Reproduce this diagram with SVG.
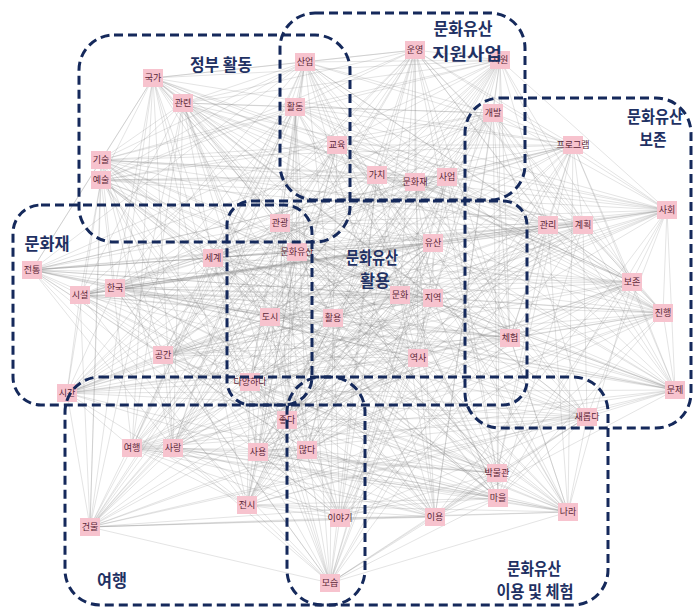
<svg xmlns="http://www.w3.org/2000/svg" xmlns:xlink="http://www.w3.org/1999/xlink" width="693" height="607" viewBox="0 0 693 607">
<style>
.e{fill:none;stroke:#808080;stroke-width:.6;stroke-opacity:.36;stroke-linejoin:round}
.grp{fill:none;stroke:#15295b;stroke-width:3;stroke-dasharray:9 5}
.n text{font-family:"Noto Sans CJK KR","Noto Sans",sans-serif;font-size:9px;fill:#5a2636;text-anchor:middle}
.t{font-family:"Noto Sans CJK KR","Noto Sans",sans-serif;font-size:16.5px;fill:#1f3163;text-anchor:middle;font-weight:700}
</style>
<defs>
<rect id="box" x="-10" y="-9" width="20" height="18" fill="#f7c3ce"/>
</defs>
<rect width="693" height="607" fill="#ffffff"/>

<!-- co-occurrence links, written as closed stride cycles over the node list -->
<g id="connectors">
<path class="e" d="M153 78L183 103 101 160 101 180 305 62 295 107 337 145 415 50 500 60 377 175 415 182 447 177 493 113 573 145 667 210 548 225 583 225 632 282 663 313 510 338 675 390 32 270 80 295 115 288 213 258 163 355 67 393 280 223 297 252 433 243 400 295 433 298 270 317 333 318 418 358 250 382 287 420 258 452 307 450 247 505 340 518 435 517 330 583 587 417 497 473 498 498 568 512 132 448 173 448 90 527Z"/>
<path class="e" d="M153 78L101 180 337 145 377 175 493 113 548 225 663 313 32 270 213 258 280 223 400 295 333 318 287 420 247 505 330 583 498 498 173 448 183 103 305 62 415 50 415 182 573 145 583 225 510 338 80 295 163 355 297 252 433 298 418 358 258 452 340 518 587 417 568 512 90 527 101 160 295 107 500 60 447 177 667 210 632 282 675 390 115 288 67 393 433 243 270 317 250 382 307 450 435 517 497 473 132 448Z"/>
<path class="e" d="M153 78L415 50 667 210 32 270 297 252 250 382 330 583 90 527 337 145 573 145 675 390 280 223 418 358 435 517 173 448 295 107 493 113 510 338 67 393 333 318 340 518 132 448 305 62 447 177 663 313 163 355 270 317 247 505 568 512 101 180 415 182 632 282 213 258 433 298 307 450 498 498 101 160 377 175 583 225 115 288 400 295 258 452 497 473 183 103 500 60 548 225 80 295 433 243 287 420 587 417Z"/>
<path class="e" d="M153 78L377 175 663 313 280 223 287 420 498 498 305 62 573 145 80 295 433 298 340 518 90 527 500 60 632 282 67 393 250 382 497 473 101 180 493 113 32 270 400 295 247 505 173 448 415 50 583 225 163 355 418 358 587 417 101 160 447 177 675 390 433 243 307 450 132 448 337 145 548 225 213 258 333 318 330 583 183 103 415 182 510 338 297 252 258 452 568 512 295 107 667 210 115 288 270 317 435 517Z"/>
<path class="e" d="M153 78L447 177 80 295 333 318 497 473 295 107 583 225 280 223 307 450 90 527 415 182 32 270 270 317 587 417 305 62 548 225 67 393 258 452 173 448 377 175 675 390 433 298 330 583 101 180 667 210 163 355 287 420 132 448 500 60 510 338 400 295 435 517 101 160 573 145 213 258 250 382 568 512 415 50 663 313 433 243 340 518 183 103 493 113 115 288 418 358 498 498 337 145 632 282 297 252 247 505Z"/>
<path class="e" d="M153 78L573 145 67 393 247 505 101 160 548 225 297 252 435 517 305 62 632 282 400 295 587 417 337 145 510 338 270 317 498 498 500 60 32 270 418 358 132 448 415 182 115 288 287 420 90 527 493 113 163 355 307 450 183 103 667 210 280 223 340 518 101 180 583 225 433 243 330 583 295 107 663 313 433 298 497 473 415 50 675 390 333 318 568 512 377 175 80 295 250 382 173 448 447 177 213 258 258 452Z"/>
<path class="e" d="M153 78L632 282 418 358 183 103 663 313 250 382 101 160 510 338 287 420 101 180 675 390 258 452 305 62 32 270 307 450 295 107 80 295 247 505 337 145 115 288 340 518 415 50 213 258 435 517 500 60 163 355 330 583 377 175 67 393 587 417 415 182 280 223 497 473 447 177 297 252 498 498 493 113 433 243 568 512 573 145 400 295 132 448 667 210 433 298 173 448 548 225 270 317 90 527 583 225 333 318Z"/>
<path class="e" d="M153 78L510 338 307 450 415 50 67 393 498 498 667 210 333 318 101 160 32 270 340 518 377 175 297 252 132 448 583 225 250 382 305 62 115 288 330 583 447 177 400 295 90 527 663 313 258 452 337 145 163 355 497 473 573 145 270 317 183 103 675 390 247 505 500 60 280 223 568 512 548 225 418 358 101 180 80 295 435 517 415 182 433 243 173 448 632 282 287 420 295 107 213 258 587 417 493 113 433 298Z"/>
<path class="e" d="M153 78L32 270 330 583 573 145 418 358 295 107 67 393 132 448 663 313 247 505 415 182 433 298 101 160 115 288 497 473 548 225 287 420 415 50 297 252 90 527 675 390 435 517 493 113 333 318 305 62 163 355 568 512 632 282 307 450 377 175 400 295 183 103 80 295 587 417 667 210 250 382 337 145 280 223 173 448 510 338 340 518 447 177 270 317 101 180 213 258 498 498 583 225 258 452 500 60 433 243Z"/>
<path class="e" d="M153 78L115 288 568 512 510 338 330 583 548 225 307 450 447 177 418 358 415 50 400 295 101 180 67 393 90 527 80 295 498 498 663 313 435 517 667 210 258 452 415 182 333 318 337 145 433 243 101 160 163 355 173 448 32 270 497 473 632 282 340 518 573 145 287 420 377 175 270 317 295 107 297 252 183 103 213 258 132 448 675 390 587 417 583 225 247 505 493 113 250 382 500 60 433 298 305 62 280 223Z"/>
<path class="e" d="M153 78L101 160 305 62 337 145 500 60 415 182 493 113 667 210 583 225 663 313 675 390 80 295 213 258 67 393 297 252 400 295 270 317 418 358 287 420 307 450 340 518 330 583 497 473 568 512 173 448Z"/>
<path class="e" d="M183 103L101 180 295 107 415 50 377 175 447 177 573 145 548 225 632 282 510 338 32 270 115 288 163 355 280 223 433 243 433 298 333 318 250 382 258 452 247 505 435 517 587 417 498 498 132 448 90 527Z"/>
<path class="e" d="M153 78L305 62 500 60 493 113 583 225 675 390 213 258 297 252 270 317 287 420 340 518 497 473 173 448 101 160 337 145 415 182 667 210 663 313 80 295 67 393 400 295 418 358 307 450 330 583 568 512Z"/>
<path class="e" d="M183 103L295 107 377 175 573 145 632 282 32 270 163 355 433 243 333 318 258 452 435 517 498 498 90 527 101 180 415 50 447 177 548 225 510 338 115 288 280 223 433 298 250 382 247 505 587 417 132 448Z"/>
<path class="e" d="M153 78L337 145 493 113 663 313 213 258 400 295 287 420 330 583 173 448 305 62 415 182 583 225 80 295 297 252 418 358 340 518 568 512 101 160 500 60 667 210 675 390 67 393 270 317 307 450 497 473Z"/>
<path class="e" d="M183 103L415 50 573 145 510 338 163 355 433 298 258 452 587 417 90 527 295 107 447 177 632 282 115 288 433 243 250 382 435 517 132 448 101 180 377 175 548 225 32 270 280 223 333 318 247 505 498 498Z"/>
<path class="e" d="M153 78L500 60 583 225 213 258 270 317 340 518 173 448 337 145 667 210 80 295 400 295 307 450 568 512 305 62 493 113 675 390 297 252 287 420 497 473 101 160 415 182 663 313 67 393 418 358 330 583Z"/>
<path class="e" d="M183 103L377 175 632 282 163 355 333 318 435 517 90 527 415 50 548 225 115 288 433 298 247 505 132 448 295 107 573 145 32 270 433 243 258 452 498 498 101 180 447 177 510 338 280 223 250 382 587 417Z"/>
</g>

<!-- keyword nodes -->
<g id="nodes">
<g id="n-gukga" class="n" transform="translate(153 78)"><use href="#box"/><text y="3.4">국가</text></g>
<g id="n-gwallyeon" class="n" transform="translate(183 103)"><use href="#box"/><text y="3.4">관련</text></g>
<g id="n-gisul" class="n" transform="translate(101 160)"><use href="#box"/><text y="3.4">기술</text></g>
<g id="n-yesul" class="n" transform="translate(101 180)"><use href="#box"/><text y="3.4">예술</text></g>
<g id="n-saneop" class="n" transform="translate(305 62)"><use href="#box"/><text y="3.4">산업</text></g>
<g id="n-hwaldong" class="n" transform="translate(295 107)"><use href="#box"/><text y="3.4">활동</text></g>
<g id="n-gyoyuk" class="n" transform="translate(337 145)"><use href="#box"/><text y="3.4">교육</text></g>
<g id="n-unyeong" class="n" transform="translate(415 50)"><use href="#box"/><text y="3.4">운영</text></g>
<g id="n-jiwon" class="n" transform="translate(500 60)"><use href="#box"/><text y="3.4">지원</text></g>
<g id="n-gachi" class="n" transform="translate(377 175)"><use href="#box"/><text y="3.4">가치</text></g>
<g id="n-munhwajae" class="n" transform="translate(415 182)"><use href="#box"/><text y="3.4">문화재</text></g>
<g id="n-saeop" class="n" transform="translate(447 177)"><use href="#box"/><text y="3.4">사업</text></g>
<g id="n-gaebal" class="n" transform="translate(493 113)"><use href="#box"/><text y="3.4">개발</text></g>
<g id="n-program" class="n" transform="translate(573 145)"><use href="#box"/><text y="3.4">프로그램</text></g>
<g id="n-sahoe" class="n" transform="translate(667 210)"><use href="#box"/><text y="3.4">사회</text></g>
<g id="n-gwalli" class="n" transform="translate(548 225)"><use href="#box"/><text y="3.4">관리</text></g>
<g id="n-gyehoek" class="n" transform="translate(583 225)"><use href="#box"/><text y="3.4">계획</text></g>
<g id="n-bojon" class="n" transform="translate(632 282)"><use href="#box"/><text y="3.4">보존</text></g>
<g id="n-jinhaeng" class="n" transform="translate(663 313)"><use href="#box"/><text y="3.4">진행</text></g>
<g id="n-cheheom" class="n" transform="translate(510 338)"><use href="#box"/><text y="3.4">체험</text></g>
<g id="n-munje" class="n" transform="translate(675 390)"><use href="#box"/><text y="3.4">문제</text></g>
<g id="n-jeontong" class="n" transform="translate(32 270)"><use href="#box"/><text y="3.4">전통</text></g>
<g id="n-siseol" class="n" transform="translate(80 295)"><use href="#box"/><text y="3.4">시설</text></g>
<g id="n-hanguk" class="n" transform="translate(115 288)"><use href="#box"/><text y="3.4">한국</text></g>
<g id="n-segye" class="n" transform="translate(213 258)"><use href="#box"/><text y="3.4">세계</text></g>
<g id="n-gonggan" class="n" transform="translate(163 355)"><use href="#box"/><text y="3.4">공간</text></g>
<g id="n-sigan" class="n" transform="translate(67 393)"><use href="#box"/><text y="3.4">시간</text></g>
<g id="n-gwangwang" class="n" transform="translate(280 223)"><use href="#box"/><text y="3.4">관광</text></g>
<g id="n-munhwayusan" class="n" transform="translate(297 252)"><use href="#box"/><text y="3.4">문화유산</text></g>
<g id="n-yusan" class="n" transform="translate(433 243)"><use href="#box"/><text y="3.4">유산</text></g>
<g id="n-munhwa" class="n" transform="translate(400 295)"><use href="#box"/><text y="3.4">문화</text></g>
<g id="n-jiyeok" class="n" transform="translate(433 298)"><use href="#box"/><text y="3.4">지역</text></g>
<g id="n-dosi" class="n" transform="translate(270 317)"><use href="#box"/><text y="3.4">도시</text></g>
<g id="n-hwaryong" class="n" transform="translate(333 318)"><use href="#box"/><text y="3.4">활용</text></g>
<g id="n-yeoksa" class="n" transform="translate(418 358)"><use href="#box"/><text y="3.4">역사</text></g>
<g id="n-dayanghada" class="n" transform="translate(250 382)"><use href="#box"/><text y="3.4">다양하다</text></g>
<g id="n-jota" class="n" transform="translate(287 420)"><use href="#box"/><text y="3.4">좋다</text></g>
<g id="n-sayong" class="n" transform="translate(258 452)"><use href="#box"/><text y="3.4">사용</text></g>
<g id="n-manta" class="n" transform="translate(307 450)"><use href="#box"/><text y="3.4">많다</text></g>
<g id="n-jeonsi" class="n" transform="translate(247 505)"><use href="#box"/><text y="3.4">전시</text></g>
<g id="n-iyagi" class="n" transform="translate(340 518)"><use href="#box"/><text y="3.4">이야기</text></g>
<g id="n-iyong" class="n" transform="translate(435 517)"><use href="#box"/><text y="3.4">이용</text></g>
<g id="n-moseup" class="n" transform="translate(330 583)"><use href="#box"/><text y="3.4">모습</text></g>
<g id="n-saeropda" class="n" transform="translate(587 417)"><use href="#box"/><text y="3.4">새롭다</text></g>
<g id="n-bangmulgwan" class="n" transform="translate(497 473)"><use href="#box"/><text y="3.4">박물관</text></g>
<g id="n-maeul" class="n" transform="translate(498 498)"><use href="#box"/><text y="3.4">마을</text></g>
<g id="n-nara" class="n" transform="translate(568 512)"><use href="#box"/><text y="3.4">나라</text></g>
<g id="n-yeohaeng" class="n" transform="translate(132 448)"><use href="#box"/><text y="3.4">여행</text></g>
<g id="n-sarang" class="n" transform="translate(173 448)"><use href="#box"/><text y="3.4">사랑</text></g>
<g id="n-geonmul" class="n" transform="translate(90 527)"><use href="#box"/><text y="3.4">건물</text></g>
</g>

<!-- topic clusters (dashed outlines) -->
<g id="clusters">
<rect id="g-government" class="grp" x="79" y="35" width="271" height="207" rx="35"/>
<rect id="g-support" class="grp" x="280" y="13" width="245" height="187" rx="35"/>
<rect id="g-conservation" class="grp" x="465" y="98" width="226" height="330" rx="35"/>
<rect id="g-utilization" class="grp" x="227" y="201" width="300" height="204" rx="24"/>
<rect id="g-property" class="grp" x="13" y="205" width="299" height="200" rx="28"/>
<rect id="g-travel" class="grp" x="65" y="377" width="300" height="228" rx="35"/>
<rect id="g-experience" class="grp" x="287" y="377" width="321" height="228" rx="35"/>
</g>

<!-- cluster titles -->
<g id="titles">
<text class="t" x="221" y="71" textLength="62" lengthAdjust="spacingAndGlyphs">정부 활동</text>
<text class="t" x="463" y="35" textLength="59" lengthAdjust="spacingAndGlyphs">문화유산</text>
<text class="t" x="467" y="59.5" textLength="70" lengthAdjust="spacingAndGlyphs">지원사업</text>
<text class="t" x="655" y="123" textLength="56" lengthAdjust="spacingAndGlyphs">문화유산</text>
<text class="t" x="653" y="146" textLength="27" lengthAdjust="spacingAndGlyphs">보존</text>
<text class="t" x="47" y="249.5" textLength="45" lengthAdjust="spacingAndGlyphs">문화재</text>
<text class="t" x="372" y="264" textLength="52" lengthAdjust="spacingAndGlyphs">문화유산</text>
<text class="t" x="375" y="287" textLength="30" lengthAdjust="spacingAndGlyphs">활용</text>
<text class="t" x="112" y="586.5" textLength="30" lengthAdjust="spacingAndGlyphs">여행</text>
<text class="t" x="534" y="575" textLength="54" lengthAdjust="spacingAndGlyphs">문화유산</text>
<text class="t" x="535" y="598" textLength="77" lengthAdjust="spacingAndGlyphs">이용 및 체험</text>
</g>
</svg>
